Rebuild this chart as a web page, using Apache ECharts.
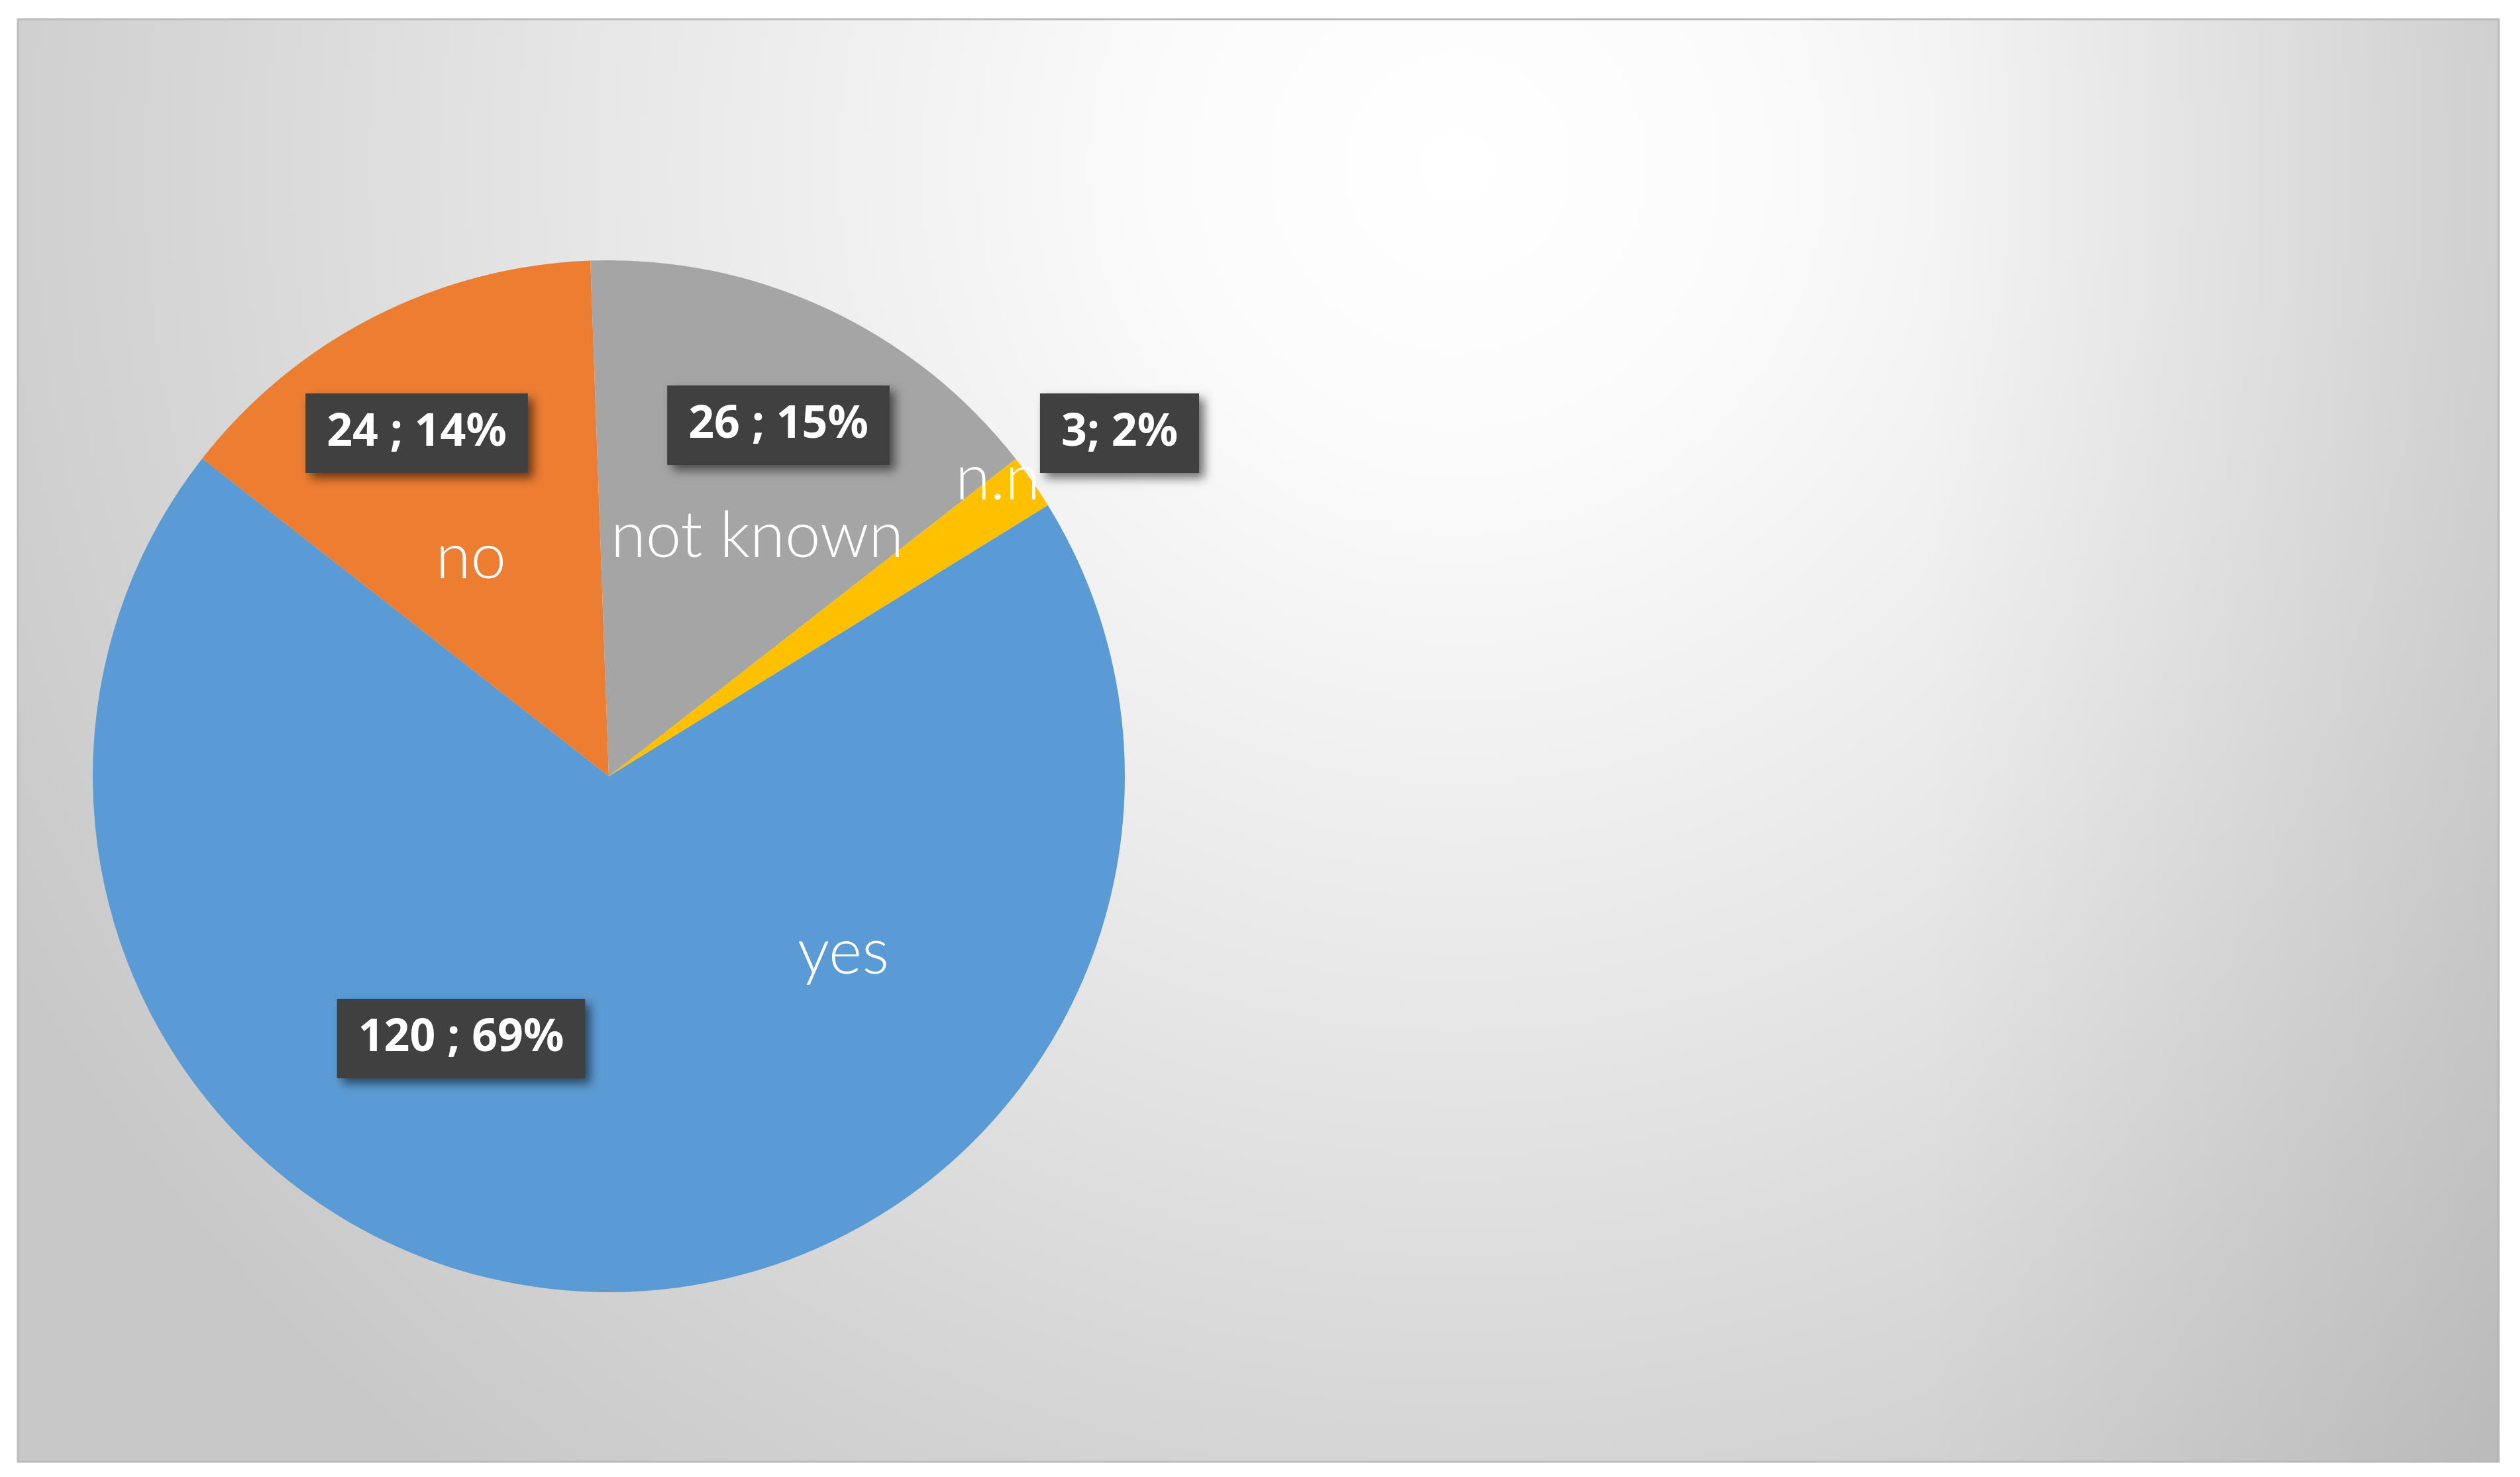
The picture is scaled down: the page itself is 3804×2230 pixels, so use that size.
<!DOCTYPE html>
<html>
<head>
<meta charset="utf-8">
<script src="https://cdn.jsdelivr.net/npm/echarts@6/dist/echarts.min.js"></script>
<style>
html, body { margin: 0; padding: 0; background: #ffffff; }
#chart { width: 3804px; height: 2230px; }
</style>
</head>
<body>
<div id="chart"></div>
<script>
// ---- data ----
const categories = ['yes', 'no', 'not known', 'n.n'];
const counts = [120, 24, 26, 3];
const sliceColors = ['#5B9BD5', '#ED7D31', '#A5A5A5', '#FFC000'];
const valueSeparators = [' ; ', ' ; ', ' ; ', '; '];

// ---- layout (labels were dragged by hand in the original; offsets from pie centre) ----
const PIE_CX = 919, PIE_CY = 1172, PIE_R = 779;
const FIRST_SLICE_ANGLE = 58.3; // degrees clockwise from 12 o'clock
const nameLabelOffsets = [[354, 267], [-208, -330], [224, -362], [587, -449]];
const valueLabelOffsets = [[-223, 396], [-290, -518], [256, -530], [771, -518]];

const pieData = categories.map((c, i) => ({ name: c, value: counts[i], itemStyle: { color: sliceColors[i] } }));

const chart = echarts.init(document.getElementById('chart'), null, { renderer: 'canvas' });

const common = {
  type: 'pie',
  center: [PIE_CX, PIE_CY],
  radius: [0, PIE_R],
  startAngle: 90 - FIRST_SLICE_ANGLE,
  clockwise: true,
  avoidLabelOverlap: false,
  percentPrecision: 0,
  animation: false,
  silent: true,
  labelLine: { show: false },
  emphasis: { disabled: true }
};

chart.setOption({
  backgroundColor: '#ffffff',
  animation: false,
  graphic: [
    {
      type: 'rect', z: -20, silent: true,
      shape: { x: 27, y: 29, width: 3745, height: 2178 },
      style: {
        fill: new echarts.graphic.RadialGradient(2200, 250, 2500, [
          { offset: 0, color: '#ffffff' },
          { offset: 0.18, color: '#fbfbfb' },
          { offset: 0.5, color: '#e8e8e8' },
          { offset: 0.8, color: '#d4d4d4' },
          { offset: 1, color: '#c8c8c8' }
        ], true),
        stroke: '#bcbcbc',
        lineWidth: 3
      }
    },
    {
      type: 'rect', z: -19, silent: true,
      shape: { x: 28, y: 30, width: 3743, height: 2176 },
      style: {
        fill: new echarts.graphic.LinearGradient(2900, 0, 3772, 0, [
          { offset: 0, color: 'rgba(0,0,0,0)' },
          { offset: 1, color: 'rgba(0,0,0,0.07)' }
        ], true)
      }
    }
  ],
  series: [
    Object.assign({}, common, {
      name: 'slices',
      data: pieData,
      label: {
        show: true,
        position: 'inside',
        formatter: '{b}',
        color: '#ffffff',
        fontFamily: 'Lato, "Open Sans", sans-serif',
        fontWeight: 300,
        fontSize: 96,
        align: 'center',
        verticalAlign: 'middle'
      },
      labelLayout: function (p) {
        const o = nameLabelOffsets[p.dataIndex];
        return { x: PIE_CX + o[0], y: PIE_CY + o[1], align: 'center', verticalAlign: 'middle' };
      }
    }),
    Object.assign({}, common, {
      name: 'values',
      data: pieData.map(d => ({ name: d.name, value: d.value, itemStyle: { color: 'rgba(0,0,0,0)' } })),
      z: 5,
      label: {
        show: true,
        position: 'inside',
        formatter: function (p) {
          return p.value + valueSeparators[p.dataIndex] + Math.round(p.percent) + '%';
        },
        color: '#ffffff',
        fontFamily: '"Noto Sans", sans-serif',
        fontWeight: 'bold',
        fontSize: 68,
        lineHeight: 82,
        backgroundColor: '#404040',
        padding: [19, 32],
        shadowColor: 'rgba(0,0,0,0.55)',
        shadowBlur: 14,
        shadowOffsetX: 8,
        shadowOffsetY: 8,
        align: 'center',
        verticalAlign: 'middle'
      },
      labelLayout: function (p) {
        const o = valueLabelOffsets[p.dataIndex];
        return { x: PIE_CX + o[0], y: PIE_CY + o[1], align: 'center', verticalAlign: 'middle' };
      }
    })
  ]
});
</script>
</body>
</html>
